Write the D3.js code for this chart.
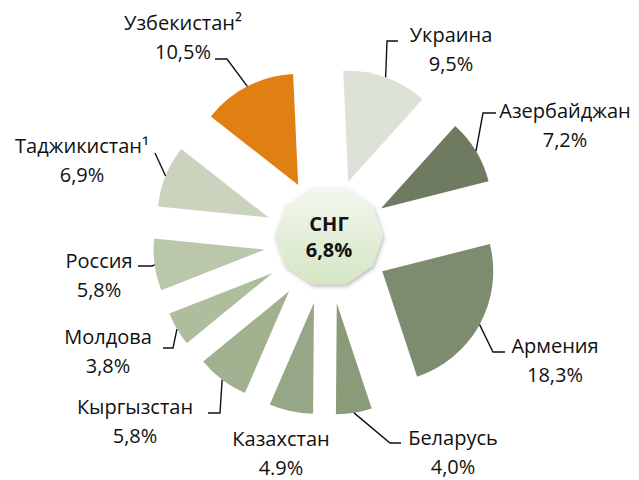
<!DOCTYPE html>
<html>
<head>
<meta charset="utf-8">
<script src="https://cdn.jsdelivr.net/npm/d3@7"></script>
<style>
  body { margin: 0; background: #fff; }
  text { font-family: "Open Sans", sans-serif; fill: #111; }
  .leader { fill: none; stroke: #111; stroke-width: 1.4; }
</style>
</head>
<body>
<div id="wrapper"></div>
<script>

// 1. Data

const countries = ["Украина", "Азербайджан", "Армения", "Беларусь", "Казахстан",
  "Кыргызстан", "Молдова", "Россия", "Таджикистан¹", "Узбекистан²"];
const growth = [9.5, 7.2, 18.3, 4.0, 4.9, 5.8, 3.8, 5.8, 6.9, 10.5];
const valueLabels = ["9,5%", "7,2%", "18,3%", "4,0%", "4.9%", "5,8%", "3,8%", "5,8%", "6,9%", "10,5%"];
const sliceColors = ["#dce2d8", "#6f7b60", "#7d8b6e", "#8b9a79", "#96a686",
  "#a1b08f", "#aebd9d", "#bbc7ab", "#c9d3bd", "#e07f12"];
const totalName = "СНГ";
const totalLabel = "6,8%";

// label placement (annotation layout): text centre x, first baseline y, leader elbow and end
const labelLayout = [
  { x: 451, y: 42, elbow: [387, 41], end: [398, 41] },
  { x: 565, y: 118, elbow: [483, 113], end: [496, 113] },
  { x: 555, y: 353, elbow: [493, 352], end: [505, 352] },
  { x: 453, y: 445, elbow: [390, 443], end: [401, 443] },
  { x: 281, y: 446, elbow: null, end: null },
  { x: 135, y: 414, elbow: [220, 413], end: [208, 413] },
  { x: 108, y: 344, elbow: [173, 348], end: [163, 348] },
  { x: 99, y: 268, elbow: [152, 266], end: [138, 266] },
  { x: 82, y: 153, elbow: null, end: [155, 153] },
  { x: 183, y: 30, elbow: [227, 59], end: [215, 59] },
];

// 2. Dimensions

const dimensions = {
  width: 639,
  height: 480,
  cx: 327,
  cy: 241,
  radius: 111,
  explode: 63,
};

// 3. Canvas

const wrapper = d3.select("#wrapper")
  .append("svg")
  .attr("width", dimensions.width)
  .attr("height", dimensions.height);

const defs = wrapper.append("defs");
const grad = defs.append("linearGradient")
  .attr("id", "hub-gradient")
  .attr("x1", 0).attr("y1", 0).attr("x2", 0).attr("y2", 1);
grad.append("stop").attr("offset", "0%").attr("stop-color", "#f3f7ee");
grad.append("stop").attr("offset", "100%").attr("stop-color", "#d5e5c4");

const shadow = defs.append("filter")
  .attr("id", "hub-shadow")
  .attr("x", "-20%").attr("y", "-20%").attr("width", "140%").attr("height", "140%");
shadow.append("feDropShadow")
  .attr("dx", 1).attr("dy", 2).attr("stdDeviation", 2)
  .attr("flood-color", "#000").attr("flood-opacity", 0.3);

const bounds = wrapper.append("g")
  .attr("transform", `translate(${dimensions.cx},${dimensions.cy})`);

// 4. Pie layout

const startAngle = -2.6 * Math.PI / 180;
const pie = d3.pie()
  .value(d => d.value)
  .sort(null)
  .startAngle(startAngle)
  .endAngle(startAngle + Math.PI * 2);

const dataset = countries.map((name, i) => ({
  name,
  value: growth[i],
  label: valueLabels[i],
  color: sliceColors[i],
  layout: labelLayout[i],
}));

const arcs = pie(dataset);

const arcGenerator = d3.arc()
  .innerRadius(0)
  .outerRadius(dimensions.radius);

const polar = (angle, r) => [Math.sin(angle) * r, -Math.cos(angle) * r];
const midAngle = d => (d.startAngle + d.endAngle) / 2;

// 5. Draw slices

const slices = bounds.append("g")
  .selectAll("path")
  .data(arcs)
  .join("path")
  .attr("transform", d => {
    const [x, y] = polar(midAngle(d), dimensions.explode);
    return `translate(${x},${y})`;
  })
  .attr("d", arcGenerator)
  .attr("fill", d => d.data.color);

// 6. Labels and leaders

const labels = wrapper.append("g");

arcs.forEach(d => {
  const lay = d.data.layout;
  const [ox, oy] = polar(midAngle(d), dimensions.explode);
  const [ax, ay] = polar(midAngle(d), dimensions.radius);
  const start = [dimensions.cx + ox + ax, dimensions.cy + oy + ay];

  if (lay.end) {
    const pts = [start];
    if (lay.elbow) pts.push(lay.elbow);
    pts.push(lay.end);
    labels.append("path")
      .attr("class", "leader")
      .attr("d", d3.line()(pts));
  }

  labels.append("text")
    .attr("x", lay.x)
    .attr("y", lay.y)
    .attr("text-anchor", "middle")
    .style("font-size", "20px")
    .text(d.data.name);

  labels.append("text")
    .attr("x", lay.x)
    .attr("y", lay.y + 29)
    .attr("text-anchor", "middle")
    .style("font-size", "20px")
    .text(d.data.label);
});

// 7. Centre badge

const hubRadius = 54;
const hubPoints = d3.range(10).map(i => {
  const a = i * Math.PI / 5;
  return [Math.cos(a) * hubRadius, Math.sin(a) * hubRadius * 0.94];
});

const hub = wrapper.append("g")
  .attr("transform", `translate(${dimensions.cx + 2},${dimensions.cy - 5})`);

hub.append("polygon")
  .attr("points", hubPoints.map(p => p.join(",")).join(" "))
  .attr("fill", "url(#hub-gradient)")
  .attr("filter", "url(#hub-shadow)");

hub.append("text")
  .attr("y", -5)
  .attr("text-anchor", "middle")
  .style("font-size", "20px")
  .style("font-weight", "bold")
  .text(totalName);

hub.append("text")
  .attr("y", 21)
  .attr("text-anchor", "middle")
  .style("font-size", "20px")
  .style("font-weight", "bold")
  .text(totalLabel);

</script>
</body>
</html>
